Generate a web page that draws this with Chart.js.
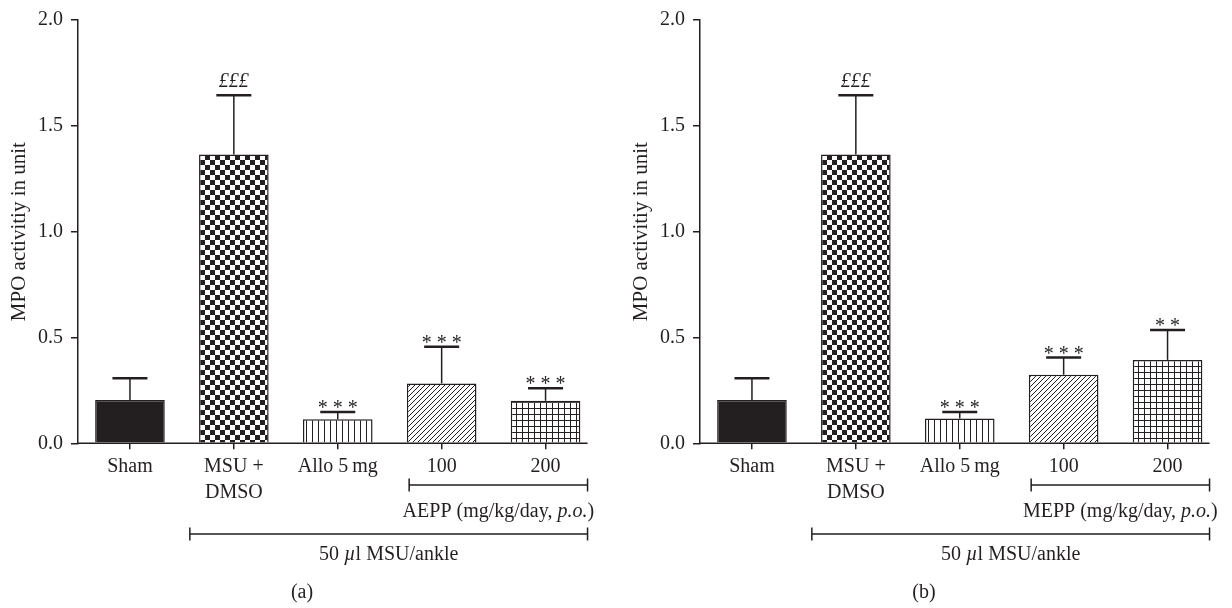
<!DOCTYPE html>
<html>
<head>
<meta charset="utf-8">
<script src="https://cdn.jsdelivr.net/npm/chart.js@4.4.0/dist/chart.umd.min.js"></script>
<style>
  html, body { margin: 0; padding: 0; background: #fff; }
  .panel { position: absolute; top: 0; width: 610px; height: 608px; }
  #pa { left: 0; }
  #pb { left: 622px; }
</style>
</head>
<body>
<div class="panel" id="pa"><canvas id="chartA" width="610" height="608"></canvas></div>
<div class="panel" id="pb"><canvas id="chartB" width="610" height="608"></canvas></div>
<script>
// data
const groups = ['Sham', ['MSU +', 'DMSO'], 'Allo 5\u2009mg', '100', '200'];
const yTicks = [0, 0.5, 1.0, 1.5, 2.0];

const aeppMeans = [0.205, 1.364, 0.114, 0.283, 0.201];
const aeppUpper = [0.307, 1.645, 0.148, 0.456, 0.260]; // mean + error
const aeppMarks = ['', '£££', '* * *', '* * *', '* * *'];

const meppMeans = [0.205, 1.364, 0.117, 0.324, 0.394];
const meppUpper = [0.307, 1.645, 0.148, 0.405, 0.535];
const meppMarks = ['', '£££', '* * *', '* * *', '* *'];

const ink = '#231f20';
const serif = "'Liberation Serif', 'Times New Roman', serif";
const fontSize = 20;

function makePattern(ctx, kind) {
    const c = document.createElement('canvas');
    const g = c.getContext('2d');
    let n = 6;
    if (kind === 'checker') n = 10;
    if (kind === 'diag') n = 5;
    c.width = n; c.height = n;
    g.fillStyle = '#fff';
    g.fillRect(0, 0, n, n);
    g.fillStyle = ink;
    g.strokeStyle = ink;
    if (kind === 'checker') {
        g.fillRect(0, 0, 5, 5);
        g.fillRect(5, 5, 5, 5);
    } else if (kind === 'vlines') {
        g.fillRect(0, 0, 1, n);
    } else if (kind === 'grid') {
        g.fillRect(0, 0, 1, n);
        g.fillRect(0, 0, n, 1);
    } else if (kind === 'diag') {
        g.lineWidth = 1;
        g.beginPath();
        g.moveTo(-1, n + 1); g.lineTo(n + 1, -1);
        g.moveTo(-1, 1); g.lineTo(1, -1);
        g.moveTo(n - 1, n + 1); g.lineTo(n + 1, n - 1);
        g.stroke();
    }
    return ctx.createPattern(c, 'repeat');
}

function drawRich(ctx, parts, cx, y) {
    let total = 0;
    parts.forEach(p => {
        ctx.font = (p.i ? 'italic ' : '') + fontSize + 'px ' + serif;
        total += ctx.measureText(p.t).width;
    });
    let x = cx - total / 2;
    ctx.textAlign = 'left';
    parts.forEach(p => {
        ctx.font = (p.i ? 'italic ' : '') + fontSize + 'px ' + serif;
        ctx.fillText(p.t, x, y);
        x += ctx.measureText(p.t).width;
    });
}

function bracket(ctx, x1, x2, y, h) {
    ctx.beginPath();
    ctx.moveTo(x1, y); ctx.lineTo(x2, y);
    ctx.moveTo(x1, y - h); ctx.lineTo(x1, y + h);
    ctx.moveTo(x2, y - h); ctx.lineTo(x2, y + h);
    ctx.stroke();
}

function buildChart(id, means, upper, marks, drug, panel) {
    const ctx = document.getElementById(id).getContext('2d');
    const fills = [ink, makePattern(ctx, 'checker'), makePattern(ctx, 'vlines'),
                   makePattern(ctx, 'diag'), makePattern(ctx, 'grid')];

    const extras = {
        id: 'extras',
        afterDatasetsDraw(chart) {
            const c = chart.ctx;
            const xs = chart.scales.x, ys = chart.scales.y;
            const area = chart.chartArea;
            c.save();
            c.strokeStyle = ink;
            c.fillStyle = ink;
            // error bars + significance marks
            means.forEach((m, i) => {
                const x = xs.getPixelForValue(i);
                const yb = ys.getPixelForValue(m);
                const yt = ys.getPixelForValue(upper[i]);
                c.lineWidth = 1.5;
                c.beginPath(); c.moveTo(x, yb); c.lineTo(x, yt); c.stroke();
                c.lineWidth = 2.5;
                c.beginPath(); c.moveTo(x - 17.5, yt); c.lineTo(x + 17.5, yt); c.stroke();
                if (marks[i]) {
                    c.textAlign = 'center';
                    c.textBaseline = 'alphabetic';
                    if (marks[i].includes('£')) {
                        c.font = 'italic ' + fontSize + 'px ' + serif;
                        c.fillText(marks[i], x, yt - 8);
                    } else {
                        c.font = fontSize + 'px ' + serif;
                        c.fillText(marks[i], x, yt + 2);
                    }
                }
            });
            // x axis line, stops short of the last slot
            const endX = xs.getPixelForValue(groups.length - 1) + 42;
            c.lineWidth = 1.5;
            c.beginPath(); c.moveTo(area.left, area.bottom); c.lineTo(endX, area.bottom); c.stroke();
            // group brackets
            const drugStart = xs.getPixelForValue(3) - 32.5;
            const msuStart = xs.getPixelForValue(1) - 44;
            bracket(c, drugStart, endX, 485, 6.5);
            bracket(c, msuStart, endX, 534, 6.5);
            c.textBaseline = 'alphabetic';
            drawRich(c, [{ t: drug + ' (mg/kg/day, ' }, { t: 'p.o.', i: true }, { t: ')' }], (drugStart + endX) / 2, 517);
            drawRich(c, [{ t: '50 ' }, { t: '\u00b5', i: true }, { t: 'l MSU/ankle' }], (msuStart + endX) / 2, 560);
            drawRich(c, [{ t: panel }], 302, 598);
            c.restore();
        }
    };

    return new Chart(ctx, {
        type: 'bar',
        data: {
            labels: groups,
            datasets: [{
                data: means,
                backgroundColor: fills,
                borderColor: ink,
                borderWidth: 1.5,
                borderSkipped: 'bottom',
                barPercentage: 0.67,
                categoryPercentage: 1
            }]
        },
        options: {
            responsive: false,
            animation: false,
            devicePixelRatio: 1,
            layout: { padding: { top: 15.7, right: 12.5, left: 0, bottom: 0 } },
            plugins: { legend: { display: false }, tooltip: { enabled: false } },
            scales: {
                x: {
                    grid: { offset: false, drawOnChartArea: false, tickLength: 6, color: ink, lineWidth: 1.5 },
                    border: { display: false },
                    ticks: { color: ink, padding: 4, maxRotation: 0, autoSkip: false,
                             font: { family: serif, size: fontSize, lineHeight: 1.3 } },
                    afterFit: s => { s.height = 164.7; }
                },
                y: {
                    min: 0,
                    max: 2,
                    afterBuildTicks: s => { s.ticks = yTicks.map(v => ({ value: v })); },
                    grid: { drawOnChartArea: false, tickLength: 7, color: ink, lineWidth: 1.5 },
                    border: { color: ink, width: 1.5 },
                    ticks: { color: ink, padding: 8, font: { family: serif, size: fontSize },
                             callback: v => v.toFixed(1) },
                    title: { display: true, text: 'MPO activitiy in unit', color: ink,
                             font: { family: serif, size: fontSize + 1 }, padding: { top: 7, bottom: 0 } },
                    afterFit: s => { s.width = 78; }
                }
            }
        },
        plugins: [extras]
    });
}

buildChart('chartA', aeppMeans, aeppUpper, aeppMarks, 'AEPP', '(a)');
buildChart('chartB', meppMeans, meppUpper, meppMarks, 'MEPP', '(b)');
</script>
</body>
</html>
